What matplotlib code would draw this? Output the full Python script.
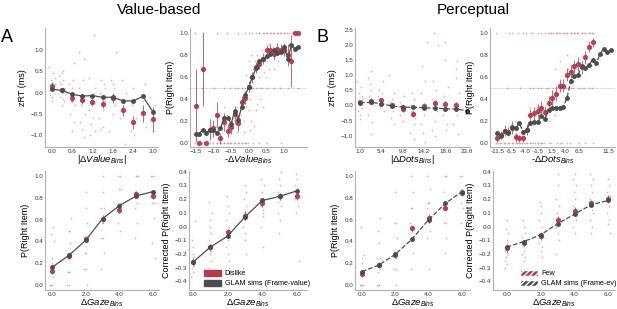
import numpy as np
import matplotlib
matplotlib.use("Agg")
import matplotlib.pyplot as plt
from matplotlib.patches import Patch

plt.rcParams['font.family'] = ['Liberation Sans', 'DejaVu Sans']
plt.rcParams['mathtext.fontset'] = 'custom'
plt.rcParams['mathtext.rm'] = 'Liberation Sans'
plt.rcParams['mathtext.it'] = 'Liberation Sans:italic'

RED = '#b33b4a'
DARK = '#4d4d4d'
DOT = '#c4707c'

# ---- panel A1: zRT vs |dValue|
val_bins = [0.0, 0.3, 0.6, 0.9, 1.2, 1.5, 1.8, 2.1, 2.4, 2.7, 3.0]
val_rt_glam = [0.08, 0.05, -0.04, -0.08, -0.07, -0.11, -0.11, -0.19, -0.2, -0.09, -0.45]
val_rt_data = [0.16, 0.05, -0.12, -0.17, -0.21, -0.27, -0.12, -0.42, -0.7, -0.49, -0.63]
val_rt_err = [0.08, 0.05, 0.1, 0.1, 0.1, 0.1, 0.12, 0.12, 0.15, 0.2, 0.3]
val_rt_subj = [
    [0.6, 0.45, 0.3, 0.2, 0.1, 0.0, -0.1, -0.2, 0.35, -0.05],
    [0.5, 0.4, 0.3, 0.2, 0.1, -0.1, -0.2, -0.3, 0.45, 0.0, 0.25, -0.15],
    [0.7, 0.3, 0.2, 0.0, -0.2, -0.3, -0.5, -0.7, -0.9, 0.1],
    [0.95, 0.8, 0.3, 0.1, -0.1, -0.3, -0.5, -0.7, -1.05, -0.85],
    [1.35, 0.35, 0.1, -0.2, -0.4, -0.6, -0.75, -0.9, -1.0, 0.0],
    [0.3, 0.2, 0.0, -0.2, -0.4, -0.6, -0.8, -0.85, 0.1],
    [0.95, 0.3, 0.1, -0.1, -0.3, -0.5, -0.9, 0.2],
    [0.3, 0.0, -0.2, -0.4, -0.6, -1.2],
    [0.1, -0.3, -0.6, -0.9, -1.0],
    [0.2, -0.2, -0.5, -0.8],
    [-0.1, -0.3, -0.6, -0.9],
]

# ---- panel A2: P(right) vs -dValue
val_diff = [-1.5 + 0.1 * i for i in range(30)]
val_p_glam = [0.08, 0.08, 0.12, 0.09, 0.12, 0.12, 0.09, 0.13, 0.23, 0.23,
              0.17, 0.29, 0.21, 0.33, 0.44, 0.51, 0.6, 0.68, 0.75, 0.77,
              0.79, 0.81, 0.85, 0.82, 0.83, 0.88, 0.77, 0.89, 0.86, 0.88]
val_p_data = [0.34, 0.0, 0.67, 0.0, 0.12, 0.13, 0.25, 0.04, 0.19, 0.11,
              0.14, 0.26, 0.18, 0.37, 0.41, 0.51, 0.6, 0.69, 0.72, 0.77,
              0.85, 0.85, 0.81, 0.86, 0.85, 0.85, 0.8, 0.75, 1.0, 1.0]
val_p_err = [0.33, 0.0, 0.33, 0.0, 0.1, 0.08, 0.12, 0.05, 0.08, 0.06,
             0.06, 0.08, 0.07, 0.06, 0.06, 0.05, 0.05, 0.05, 0.05, 0.05,
             0.04, 0.05, 0.05, 0.05, 0.05, 0.06, 0.1, 0.24, 0.0, 0.0]
val_ones = [0, 2, 6, 9, 12, 14, 15, 16, 17, 18, 18, 19, 19, 20, 20, 21, 21, 22,
            22, 23, 23, 24, 24, 25, 25, 26, 26, 27, 28, 29, 29]
val_zeros = [0, 1, 1, 2, 3, 3, 4, 5, 6, 6, 7, 7, 8, 8, 9, 9, 10, 10, 11, 11,
             12, 12, 13, 13, 14, 14, 15, 16, 18, 20, 24]
val_halves = [2, 5, 8, 10, 11, 12, 13, 14, 15, 15, 16, 16, 17, 18, 19, 20, 22, 24, 26, 29]
val_mid_idx = [13, 14, 14, 15, 15, 16, 16, 16, 17, 17, 17, 18, 18, 19, 19, 20, 21, 22,
               11, 12, 10, 9, 15, 14, 18, 17, 19, 16, 20, 13, 12, 14, 15, 16, 8, 22, 23, 21]
val_mid_p = [0.25, 0.33, 0.2, 0.4, 0.3, 0.2, 0.67, 0.6, 0.35, 0.75, 0.8, 0.6, 0.7, 0.65,
             0.85, 0.75, 0.9, 0.67, 0.17, 0.33, 0.2, 0.25, 0.12, 0.1, 0.4, 0.3, 0.33,
             0.15, 0.6, 0.4, 0.1, 0.62, 0.75, 0.8, 0.33, 0.88, 0.75, 0.67]

# ---- panel B1: zRT vs |dDots|
dot_bins = [1.0, 3.2, 5.4, 7.6, 9.8, 12.0, 14.2, 16.4, 18.6, 20.8, 23.0]
dot_rt_glam = [0.09, 0.1, 0.06, -0.02, -0.06, -0.06, -0.08, -0.09, -0.11, -0.12, -0.17]
dot_rt_data = [0.11, 0.15, 0.19, 0.0, -0.13, -0.27, -0.02, 0.09, 0.03, 0.01]
dot_rt_err = [0.08, 0.1, 0.07, 0.08, 0.08, 0.1, 0.1, 0.1, 0.1, 0.1]
dot_rt_subj = [
    [0.8, 0.6, 0.4, 0.3, 0.1, -0.1, -0.3, -0.45, 0.2, -0.2],
    [1.15, 0.9, 0.5, 0.3, 0.0, -0.3, -0.55, -0.95, 0.7],
    [0.8, 0.4, 0.3, 0.1, -0.1, -0.2, 0.5],
    [1.0, 0.4, 0.2, 0.0, -0.2, -0.4, -0.6, 0.1],
    [0.3, 0.1, -0.1, -0.2, -0.3, -0.5, 0.0],
    [0.4, 0.2, 0.0, -0.4, -0.6, -0.9, -1.1, -0.2],
    [2.1, 1.3, 0.8, 0.4, 0.0, -0.3, -0.6, -1.2, -0.9],
    [2.4, 2.0, 0.8, 0.5, 0.2, -0.2, -0.5, -0.8, -1.0],
    [2.1, 1.5, 0.6, 0.3, 0.0, -0.3, -0.6, -0.8],
    [1.45, 1.2, 0.9, 0.4, 0.0, -0.3, -0.6, -0.95],
    [],
]

# ---- panel B2: P(right) vs -dDots (categorical bins)
dot_tick_labels = ['-11.5', '-6.5', '-4.0', '-1.5', '1.5', '4.0', '6.5', '11.5']
dot_p_glam = [0.085, 0.06, 0.11, 0.09, 0.13, 0.13, 0.18, 0.1, 0.12, 0.18, 0.19,
              0.19, 0.24, 0.22, 0.3, 0.32, 0.32, 0.32, 0.33, 0.41, 0.56, 0.61,
              0.62, 0.7, 0.68, 0.71, 0.76, 0.73, 0.81, 0.86, 0.83, 0.85]
dot_p_data = [0.04, 0.07, 0.11, 0.1, 0.14, 0.05, 0.04, 0.04, 0.12, 0.25, 0.27,
              0.29, 0.32, 0.28, 0.36, 0.41, 0.45, 0.52, 0.52, 0.62, 0.65, 0.7,
              0.72, 0.69, 0.78, 0.88, 0.92]
dot_p_err = [0.03, 0.04, 0.05, 0.04, 0.06, 0.04, 0.03, 0.03, 0.05, 0.06, 0.06,
             0.06, 0.06, 0.06, 0.07, 0.07, 0.07, 0.06, 0.06, 0.06, 0.06, 0.06,
             0.06, 0.06, 0.06, 0.05, 0.04]
dot_ones = [0, 3, 4, 6, 7, 8, 9, 10, 11, 12, 13, 14, 14, 15, 15, 16, 16, 17, 17,
            18, 18, 19, 19, 20, 20, 21, 21, 22, 22, 23, 23, 24, 24, 25, 25, 26, 26]
dot_zeros = [0, 0, 1, 1, 2, 2, 3, 3, 4, 4, 5, 5, 6, 6, 7, 7, 8, 8, 9, 9, 10, 10,
             11, 11, 12, 12, 13, 14, 15, 16, 17, 18, 19, 20, 22, 24, 26]
dot_halves = [3, 6, 9, 10, 11, 12, 13, 14, 15, 16, 17, 18, 19, 20, 21, 22, 23, 24, 25, 26]
dot_mid_idx = [9, 10, 11, 14, 15, 16, 17, 19, 20, 22, 23, 13, 12, 18, 21, 5, 16, 19]
dot_mid_p = [0.33, 0.25, 0.33, 0.2, 0.38, 0.67, 0.75, 0.8, 0.67, 0.67, 0.75, 0.25,
             0.33, 0.33, 0.6, 0.2, 0.25, 0.67]

# ---- gaze panels
gaze_bins = [0, 1, 2, 3, 4, 5, 6]
val_gaze_glam = [0.16, 0.27, 0.41, 0.61, 0.73, 0.82, 0.86]
val_gaze_data = [0.13, 0.26, 0.42, 0.61, 0.69, 0.84, 0.82]
val_gaze_subj = [
    [0.0, 0.0, 0.0, 0.07, 0.12, 0.12, 0.2, 0.25, 0.4, 0.47, 0.53],
    [0.0, 0.0, 0.12, 0.12, 0.25, 0.25, 0.38, 0.5, 0.5, 0.62],
    [0.0, 0.14, 0.14, 0.29, 0.29, 0.43, 0.43, 0.57, 0.71, 0.86],
    [0.14, 0.29, 0.43, 0.43, 0.57, 0.57, 0.71, 0.71, 0.86, 1.0],
    [0.5, 0.57, 0.67, 0.71, 0.75, 0.75, 0.88, 0.88, 1.0, 1.0],
    [0.43, 0.57, 0.71, 0.75, 0.86, 0.86, 1.0, 1.0, 1.0],
    [0.25, 0.38, 0.62, 0.75, 0.75, 0.86, 1.0, 1.0, 1.0],
]
val_corr_glam = [-0.26, -0.15, -0.07, 0.07, 0.19, 0.22, 0.26]
val_corr_data = [-0.26, -0.15, -0.04, 0.08, 0.17, 0.22, 0.22]
val_corr_subj = [
    [-0.37, -0.33, -0.3, -0.28, -0.25, -0.22, -0.2, -0.15, 0.04, -0.1],
    [-0.36, -0.3, -0.25, -0.2, -0.15, -0.1, -0.05, 0.0, 0.05, 0.1, 0.18, -0.18],
    [-0.3, -0.2, -0.15, -0.1, -0.05, 0.0, 0.05, 0.1, 0.15, 0.22, -0.25],
    [-0.3, -0.2, -0.1, 0.0, 0.05, 0.1, 0.15, 0.2, 0.25, 0.3, -0.05, 0.08],
    [-0.15, 0.0, 0.08, 0.12, 0.15, 0.2, 0.25, 0.3, 0.35, 0.1],
    [-0.05, 0.05, 0.1, 0.15, 0.2, 0.25, 0.3, 0.35, 0.4, 0.18],
    [-0.25, 0.1, 0.15, 0.2, 0.22, 0.25, 0.3, 0.35, 0.38, 0.28],
]
dot_gaze_glam = [0.12, 0.18, 0.28, 0.42, 0.6, 0.75, 0.86]
dot_gaze_data = [0.1, 0.18, 0.27, 0.52, 0.62, 0.71, 0.85]
dot_gaze_subj = [
    [0.0, 0.0, 0.0, 0.0, 0.12, 0.12, 0.2, 0.25, 0.27, 0.53],
    [0.0, 0.0, 0.0, 0.12, 0.14, 0.25, 0.25, 0.38, 0.5, 0.62],
    [0.0, 0.14, 0.14, 0.25, 0.29, 0.43, 0.57, 0.57, 0.86],
    [0.14, 0.29, 0.43, 0.57, 0.71, 0.71, 0.86, 1.0],
    [0.14, 0.43, 0.5, 0.57, 0.71, 0.75, 0.75, 0.88, 1.0],
    [0.29, 0.43, 0.57, 0.57, 0.71, 0.86, 1.0, 1.0],
    [0.25, 0.57, 0.71, 0.75, 0.86, 0.86, 1.0, 1.0],
]
dot_corr_glam = [-0.15, -0.11, -0.06, 0.02, 0.09, 0.16, 0.19]
dot_corr_data = [-0.16, -0.12, -0.07, 0.05, 0.11, 0.17, 0.2]
dot_corr_subj = [
    [-0.3, -0.27, -0.22, -0.2, -0.18, -0.15, -0.12, -0.1, -0.05, -0.02, 0.05, -0.25],
    [-0.25, -0.2, -0.18, -0.15, -0.1, -0.08, -0.05, 0.0, 0.05, -0.22],
    [-0.22, -0.18, -0.12, -0.08, -0.05, 0.0, 0.05, 0.1, 0.15, 0.18, -0.15],
    [-0.2, -0.1, -0.05, 0.0, 0.05, 0.1, 0.15, 0.2, 0.3, 0.38, 0.02],
    [-0.05, 0.0, 0.05, 0.1, 0.15, 0.2, 0.25, 0.3, 0.35, 0.38],
    [-0.05, 0.0, 0.05, 0.1, 0.15, 0.2, 0.25, 0.3, 0.35, 0.38, 0.12],
    [-0.05, 0.02, 0.05, 0.1, 0.15, 0.2, 0.25, 0.3, 0.35, 0.22],
]
gaze_err = [0.03, 0.025, 0.025, 0.03, 0.03, 0.025, 0.03]

# fixed jitter pattern for the participant dots
JIT = np.array([-0.4, 0.1, -0.15, 0.3, -0.3, 0.2, 0.0, -0.05, 0.4, -0.2, 0.15, -0.35, 0.25, 0.05])


def jit(n, w, k=0):
    return np.resize(np.roll(JIT, k), n) * w


def style(ax, xl, yl, xlim, ylim):
    for s in ['top', 'right']:
        ax.spines[s].set_visible(False)
    for s in ['left', 'bottom']:
        ax.spines[s].set_color('#b0b0b0')
        ax.spines[s].set_linewidth(0.8)
    ax.tick_params(length=0, labelsize=4.5, colors='#333333', pad=1.2)
    ax.set_xlabel(xl, fontsize=6.8, va='baseline')
    # baseline about 15 px under the bottom spine (axes are 119 px tall)
    ax.xaxis.set_label_coords(0.5, -15.5 / 119)
    ax.set_ylabel(yl, fontsize=6.5, labelpad=3)
    ax.set_xlim(xlim)
    ax.set_ylim(ylim)


def subj_dots(ax, xs, groups, w):
    for k, (x, g) in enumerate(zip(xs, groups)):
        if len(g) == 0:
            continue
        ax.scatter(x + jit(len(g), w, k), g, s=1.5, color=DOT, alpha=0.55, lw=0, zorder=1)


def rows(ax, xs, idx, yv, w):
    idx = np.array(idx)
    ax.scatter(np.array(xs)[idx] + jit(len(idx), w, 3), np.full(len(idx), yv),
               s=1.5, color=DOT, alpha=0.6, lw=0, zorder=1)


def means(ax, x, glam, data, err, ls):
    ax.errorbar(x[:len(data)], data, yerr=err, fmt='o', color=RED, ms=2.8,
                elinewidth=0.6, ecolor=RED, alpha=0.9, zorder=3)
    ax.plot(x, glam, ls=ls, marker='o', color=DARK, ms=2.5, lw=0.9, zorder=4)


fig = plt.figure(figsize=(6.17, 3.09), dpi=100)
W, H = 617.0, 309.0


def add_ax(x0, x1, y0, y1):
    return fig.add_axes([x0 / W, 1 - y1 / H, (x1 - x0) / W, (y1 - y0) / H])


TOP = (28, 147)
BOT = (171, 290)

# A1
ax = add_ax(45, 158, *TOP)
subj_dots(ax, val_bins, val_rt_subj, 0.25)
means(ax, np.array(val_bins), val_rt_glam, val_rt_data, val_rt_err, '-')
ax.set_xticks([0.0, 0.6, 1.2, 1.8, 2.4, 3.0])
ax.set_xticklabels(['0.0', '0.6', '1.2', '1.8', '2.4', '3.0'])
ax.set_yticks([-1.0, -0.5, 0.0, 0.5, 1.0])
style(ax, r'$|\Delta \mathit{Value}_{\mathit{Bins}}|$', 'zRT (ms)', (-0.21, 3.15), (-1.28, 1.52))

# A2
ax = add_ax(190, 307, *TOP)
ax.axhline(0.5, color='#ead5d8', lw=0.6, zorder=0)
rows(ax, val_diff, val_ones, 1.0, 0.06)
rows(ax, val_diff, val_zeros, 0.0, 0.06)
rows(ax, val_diff, val_halves, 0.5, 0.06)
ax.scatter(np.array(val_diff)[val_mid_idx] + jit(len(val_mid_idx), 0.08, 5), val_mid_p,
           s=1.5, color=DOT, alpha=0.55, lw=0, zorder=1)
means(ax, np.array(val_diff), val_p_glam, val_p_data, val_p_err, '-')
ax.set_xticks([-1.5, -1.0, -0.5, 0.0, 0.5, 1.0])
ax.set_yticks([0.0, 0.2, 0.4, 0.6, 0.8, 1.0])
style(ax, r'-$\Delta \mathit{Value}_{\mathit{Bins}}$', 'P(Right Item)', (-1.66, 1.64), (-0.04, 1.05))

# B1
ax = add_ax(355, 470, *TOP)
subj_dots(ax, dot_bins, dot_rt_subj, 1.6)
means(ax, np.array(dot_bins), dot_rt_glam, dot_rt_data, dot_rt_err, '--')
ax.set_xticks(dot_bins[::2])
ax.set_xticklabels(['1.0', '5.4', '9.8', '14.2', '18.6', '23.0'])
ax.set_yticks([-1.0, -0.5, 0.0, 0.5, 1.0, 1.5, 2.0, 2.5])
style(ax, r'$|\Delta \mathit{Dots}_{\mathit{Bins}}|$', 'zRT (ms)', (-0.03, 23.7), (-1.37, 2.55))

# B2
dot_pos = np.arange(len(dot_p_glam))
ax = add_ax(490, 615, *TOP)
ax.axhline(0.5, color='#ead5d8', lw=0.6, zorder=0)
rows(ax, dot_pos, dot_ones, 1.0, 0.7)
rows(ax, dot_pos, dot_zeros, 0.0, 0.7)
rows(ax, dot_pos, dot_halves, 0.5, 0.7)
ax.scatter(dot_pos[dot_mid_idx] + jit(len(dot_mid_idx), 0.8, 5), dot_mid_p,
           s=1.5, color=DOT, alpha=0.55, lw=0, zorder=1)
means(ax, dot_pos, dot_p_glam, dot_p_data, dot_p_err, '--')
ax.set_xticks([0, 3.8, 7.6, 11.2, 15, 18.6, 22.3, 30.4])
ax.set_xticklabels(dot_tick_labels)
ax.set_yticks([0.0, 0.2, 0.4, 0.6, 0.8, 1.0])
style(ax, r'-$\Delta \mathit{Dots}_{\mathit{Bins}}$', 'P(Right Item)', (-2.0, 32.1), (-0.04, 1.05))

gx = np.array(gaze_bins)
gl = r'$\Delta \mathit{Gaze}_{\mathit{Bins}}$'
gticks = [0, 2, 4, 6]
glabels = ['0.0', '2.0', '4.0', '6.0']

# A3
ax = add_ax(45, 159, *BOT)
subj_dots(ax, gaze_bins, val_gaze_subj, 0.25)
means(ax, gx, val_gaze_glam, val_gaze_data, gaze_err, '-')
ax.set_xticks(gticks)
ax.set_xticklabels(glabels)
ax.set_yticks([0.0, 0.2, 0.4, 0.6, 0.8, 1.0])
style(ax, gl, 'P(Right Item)', (-0.42, 6.35), (-0.05, 1.05))

# A4
ax = add_ax(189, 307, *BOT)
subj_dots(ax, gaze_bins, val_corr_subj, 0.25)
means(ax, gx, val_corr_glam, val_corr_data, gaze_err, '-')
ax.set_xticks(gticks)
ax.set_xticklabels(glabels)
ax.set_yticks([-0.4, -0.3, -0.2, -0.1, 0.0, 0.1, 0.2, 0.3, 0.4])
style(ax, gl, 'Corrected P(Right Item)', (-0.23, 6.58), (-0.463, 0.405))
ax.legend(handles=[Patch(facecolor=RED, edgecolor=RED, label='Dislike'),
                   Patch(facecolor=DARK, edgecolor=DARK, label='GLAM sims (Frame-value)')],
          loc='lower left', bbox_to_anchor=(0.07, -0.03), frameon=False, fontsize=5.2,
          handlelength=2.4, handleheight=0.9, labelspacing=0.35, handletextpad=0.5)

# B3
ax = add_ax(355, 470, *BOT)
subj_dots(ax, gaze_bins, dot_gaze_subj, 0.25)
means(ax, gx, dot_gaze_glam, dot_gaze_data, gaze_err, '--')
ax.set_xticks(gticks)
ax.set_xticklabels(glabels)
ax.set_yticks([0.0, 0.2, 0.4, 0.6, 0.8, 1.0])
style(ax, gl, 'P(Right Item)', (-0.42, 6.48), (-0.05, 1.05))

# B4
ax = add_ax(493, 615, *BOT)
subj_dots(ax, gaze_bins, dot_corr_subj, 0.25)
means(ax, gx, dot_corr_glam, dot_corr_data, gaze_err, '--')
ax.set_xticks(gticks)
ax.set_xticklabels(glabels)
ax.set_yticks([-0.4, -0.3, -0.2, -0.1, 0.0, 0.1, 0.2, 0.3, 0.4])
style(ax, gl, 'Corrected P(Right Item)', (-0.81, 6.39), (-0.463, 0.405))
ax.legend(handles=[Patch(facecolor=RED, edgecolor='white', hatch='//////', label='Few'),
                   Patch(facecolor=DARK, edgecolor='white', hatch='//////', label='GLAM sims (Frame-ev)')],
          loc='lower left', bbox_to_anchor=(0.17, -0.03), frameon=False, fontsize=5.2,
          handlelength=2.4, handleheight=0.9, labelspacing=0.35, handletextpad=0.5)

fig.text(159 / W, 1 - 10 / H, 'Value-based', fontsize=11, ha='center', va='center')
fig.text(473 / W, 1 - 10 / H, 'Perceptual', fontsize=11, ha='center', va='center')
fig.text(7 / W, 1 - 37 / H, 'A', fontsize=13, ha='center', va='center')
fig.text(322 / W, 1 - 37 / H, 'B', fontsize=13, ha='center', va='center')

fig.savefig('out.png', dpi=100)
